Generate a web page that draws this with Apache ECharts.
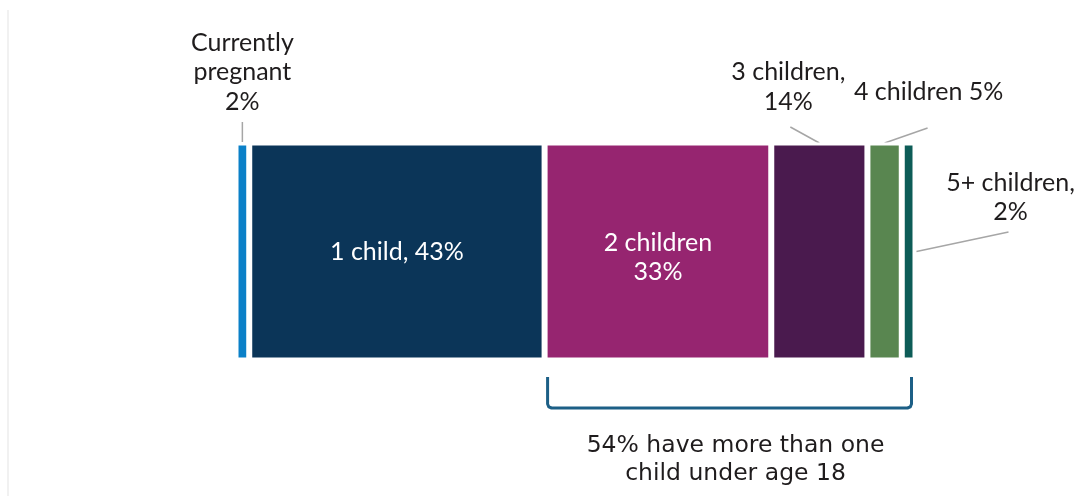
<!DOCTYPE html>
<html>
<head>
<meta charset="utf-8">
<script src="https://cdn.jsdelivr.net/npm/echarts@6/dist/echarts.min.js"></script>
<style>
  html, body { margin: 0; padding: 0; background: #ffffff; }
  #chart { width: 1089px; height: 496px; }
</style>
</head>
<body>
<div id="chart"></div>
<script>
// Share of respondents by number of children (single stacked bar, percent)
const categories = ['Currently pregnant', '1 child', '2 children', '3 children', '4 children', '5+ children'];
const shares = [2, 43, 33, 14, 5, 2];
const labelTemplates = [
  'Currently\npregnant\n{c}%',
  '1 child, {c}%',
  '2 children\n{c}%',
  '3 children,\n{c}%',
  '4 children {c}%',
  '5+ children,\n{c}%'
];
const colors = ['#0a80c8', '#0b3558', '#962570', '#4a1a4e', '#598650', '#0d5c57'];
const bracketTemplate = '{p}% have more than one\nchild under age 18';

const TOTAL = shares.reduce((a, b) => a + b, 0);
const multiShare = shares.slice(2).reduce((a, b) => a + b, 0);

const GRID = { left: 235.5, right: 173.5, top: 142.5, bottom: 135.5 };
const BAR_TOP = 145;
const BAR_MID = 251.5;
const FONT = 'Lato, "Noto Sans", sans-serif';
const INK = '#1f1c1d';

// Per-segment label placement
const labelStyles = [
  { position: 'top', distance: 26, offset: [0, 0], color: INK },
  { position: 'inside', offset: [0, 0], color: '#ffffff' },
  { position: 'inside', offset: [0, 6], color: '#ffffff' },
  { position: 'top', distance: 26, offset: [-31, 0], color: INK },
  { position: 'top', distance: 36, offset: [44, 0], color: INK },
  { position: 'right', distance: 0, align: 'center', offset: [95, -54], color: INK }
];

const chart = echarts.init(document.getElementById('chart'), null, { renderer: 'canvas' });

const series = categories.map((name, i) => ({
  name: name,
  type: 'bar',
  stack: 'total',
  barWidth: '100%',
  data: [shares[i]],
  itemStyle: { color: colors[i], borderColor: '#ffffff', borderWidth: 3 },
  label: Object.assign({
    show: true,
    formatter: labelTemplates[i],
    fontFamily: FONT,
    fontSize: 25,
    lineHeight: 29.5
  }, labelStyles[i]),
  emphasis: { disabled: true },
  silent: true
}));

chart.setOption({
  animation: false,
  backgroundColor: '#ffffff',
  grid: GRID,
  xAxis: { type: 'value', min: 0, max: TOTAL, show: false },
  yAxis: { type: 'category', data: ['share'], show: false },
  series: series
});

// Leader lines, bracket and bracket caption placed from the value scale
function px(v) { return chart.convertToPixel({ gridIndex: 0 }, [v, 0])[0]; }
const cum = [];
shares.reduce((acc, v, i) => { cum[i] = acc; return acc + v; }, 0);
const centerOf = i => px(cum[i] + shares[i] / 2);

const leader = { stroke: '#a6a6a6', lineWidth: 1.5 };
const xPreg = centerOf(0);
const x3 = centerOf(3);
const x4 = centerOf(4);
const xEnd = px(TOTAL);
const xBrL = px(cum[2]) + 3;
const xBrR = xEnd - 4;
const brTop = 377, brBot = 408, r = 4;

chart.setOption({
  graphic: [
    { type: 'line', shape: { x1: 8, y1: 10, x2: 8, y2: 496 }, style: { stroke: '#ececec', lineWidth: 1.5 }, silent: true },
    { type: 'line', shape: { x1: xPreg, y1: 122, x2: xPreg, y2: BAR_TOP - 3 }, style: leader, silent: true },
    { type: 'line', shape: { x1: x3 - 29, y1: 127, x2: x3, y2: BAR_TOP - 2 }, style: leader, silent: true },
    { type: 'line', shape: { x1: x4, y1: BAR_TOP - 2, x2: x4 + 43, y2: 128 }, style: leader, silent: true },
    { type: 'line', shape: { x1: xEnd + 1, y1: BAR_MID, x2: xEnd + 93, y2: 232 }, style: leader, silent: true },
    {
      type: 'polyline',
      shape: { points: [
        [xBrL, brTop], [xBrL, brBot - r], [xBrL + 1.2, brBot - 1.2], [xBrL + r, brBot],
        [xBrR - r, brBot], [xBrR - 1.2, brBot - 1.2], [xBrR, brBot - r], [xBrR, brTop]
      ] },
      style: { stroke: '#1c5f86', lineWidth: 3, fill: null, lineJoin: 'round', lineCap: 'butt' },
      silent: true
    },
    {
      type: 'text',
      x: (xBrL + xBrR) / 2 + 6,
      y: 459.5,
      style: {
        text: bracketTemplate.replace('{p}', multiShare),
        fill: INK,
        font: '23.5px "DejaVu Sans", sans-serif',
        lineHeight: 28,
        align: 'center',
        verticalAlign: 'middle'
      },
      silent: true
    }
  ]
});
</script>
</body>
</html>
